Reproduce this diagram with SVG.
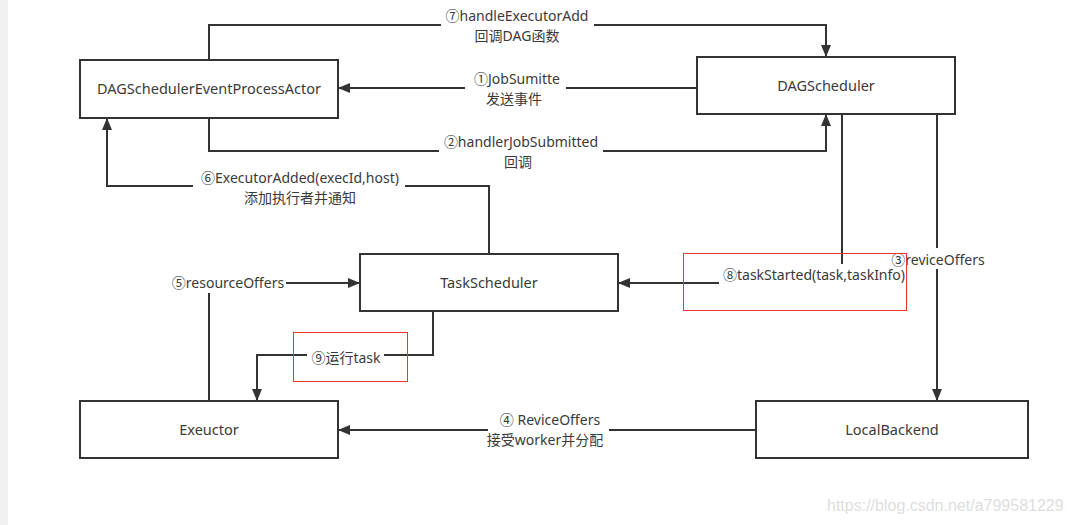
<svg xmlns="http://www.w3.org/2000/svg" width="1070" height="525" viewBox="0 0 1070 525">
  <style>
    .box { fill: #ffffff; stroke: #333333; stroke-width: 2; }
    .lbl { font-family: "Noto Sans", "Noto Sans CJK SC", sans-serif; font-size: 14.5px; fill: #3a3a3a; text-anchor: middle; }
    .el { font-size: 14px; }
    .edge { fill: none; stroke: #333333; stroke-width: 2; }
    .bg { fill: #ffffff; }
    .red { fill: none; stroke: #ee3333; stroke-width: 1; }
    .wm { font-family: "Liberation Sans", Arial, sans-serif; font-size: 16px; fill: #dedede; }
  </style>
  <defs>
    <marker id="arr" viewBox="0 0 12 10" markerWidth="12" markerHeight="10" refX="11" refY="5" orient="auto" markerUnits="userSpaceOnUse">
      <path d="M0,0 L12,5 L0,10 z" fill="#333333"/>
    </marker>
  </defs>
  <rect x="0" y="0" width="1070" height="525" fill="#ffffff"/>
  <rect x="0" y="0" width="8" height="525" fill="#f0f0f0"/>

  <g id="connectors">
    <g id="e7">
      <path class="edge" d="M209,60 V25 H826 V56" marker-end="url(#arr)"/>
      <rect class="bg" x="441" y="15" width="153" height="20"/>
      <text class="lbl el" x="517" y="21">⑦handleExecutorAdd</text>
      <text class="lbl el" x="517" y="41">回调DAG函数</text>
    </g>
    <g id="e1">
      <path class="edge" d="M697,88 H339" marker-end="url(#arr)"/>
      <rect class="bg" x="465" y="78" width="101" height="20"/>
      <text class="lbl el" x="517" y="84">①JobSumitte</text>
      <text class="lbl el" x="514" y="104">发送事件</text>
    </g>
    <g id="e2">
      <path class="edge" d="M209,118 V151 H826 V115" marker-end="url(#arr)"/>
      <rect class="bg" x="439" y="141" width="164" height="20"/>
      <text class="lbl el" x="521" y="147">②handlerJobSubmitted</text>
      <text class="lbl el" x="518" y="167">回调</text>
    </g>
    <g id="e6">
      <path class="edge" d="M489,254 V186 H107 V119" marker-end="url(#arr)"/>
      <rect class="bg" x="193" y="176" width="212" height="20"/>
      <text class="lbl el" x="300" y="183">⑥ExecutorAdded(execId,host)</text>
      <text class="lbl el" x="300" y="203">添加执行者并通知</text>
    </g>
    <g id="e5">
      <path class="edge" d="M209,401 V283 H359" marker-end="url(#arr)"/>
      <rect class="bg" x="168" y="273" width="118" height="20"/>
      <text class="lbl el" x="228" y="288">⑤resourceOffers</text>
    </g>
    <g id="e9">
      <path class="edge" d="M433,311 V355 H257 V400" marker-end="url(#arr)"/>
      <rect class="bg" x="307" y="346" width="77" height="20"/>
      <text class="lbl el" x="346" y="363">⑨运行task</text>
    </g>
    <g id="e8">
      <path class="edge" d="M842,114 V283 H619" marker-end="url(#arr)"/>
      <rect class="bg" x="719" y="264" width="190" height="22"/>
      <text class="lbl el" x="814" y="280">⑧taskStarted(task,taskInfo)</text>
    </g>
    <g id="e3">
      <path class="edge" d="M937,114 V400" marker-end="url(#arr)"/>
      <rect class="bg" x="888" y="248" width="100" height="21"/>
      <text class="lbl el" x="938" y="265">③reviceOffers</text>
    </g>
    <g id="e4">
      <path class="edge" d="M756,430 H339" marker-end="url(#arr)"/>
      <rect class="bg" x="488" y="420" width="121" height="20"/>
      <text class="lbl el" x="550" y="425">④ ReviceOffers</text>
      <text class="lbl el" x="545" y="445">接受worker并分配</text>
    </g>
  </g>

  <g id="DAGSchedulerEventProcessActor">
    <rect class="box" x="80" y="60" width="258" height="58"/>
    <text class="lbl" x="209" y="94">DAGSchedulerEventProcessActor</text>
  </g>
  <g id="DAGScheduler">
    <rect class="box" x="697" y="57" width="258" height="57"/>
    <text class="lbl" x="826" y="91">DAGScheduler</text>
  </g>
  <g id="TaskScheduler">
    <rect class="box" x="360" y="254" width="258" height="57"/>
    <text class="lbl" x="489" y="288">TaskScheduler</text>
  </g>
  <g id="Exeuctor">
    <rect class="box" x="80" y="401" width="258" height="57"/>
    <text class="lbl" x="209" y="435">Exeuctor</text>
  </g>
  <g id="LocalBackend">
    <rect class="box" x="756" y="401" width="272" height="57"/>
    <text class="lbl" x="892" y="435">LocalBackend</text>
  </g>

  <rect class="red" x="683.5" y="253.5" width="223" height="57"/>
  <rect class="red" x="293.5" y="332.5" width="114" height="49"/>

  <text class="wm" x="827" y="511">https://blog.csdn.net/a799581229</text>
</svg>
